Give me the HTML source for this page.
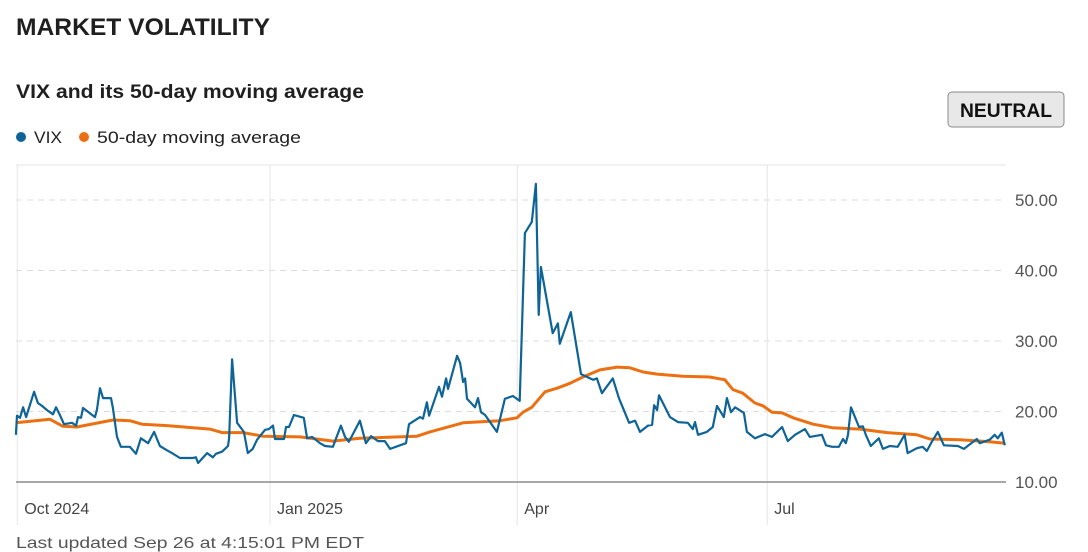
<!DOCTYPE html>
<html><head><meta charset="utf-8"><style>
html,body{margin:0;padding:0;background:#fff;}
svg{display:block;font-family:"Liberation Sans",Arial,sans-serif;}
</style></head><body>
<svg id="chart" width="1088" height="552" viewBox="0 0 1088 552" xmlns="http://www.w3.org/2000/svg">
<text x="16" y="35" font-size="24" font-weight="bold" fill="#1f1f1f" textLength="254" lengthAdjust="spacingAndGlyphs">MARKET VOLATILITY</text>
<text x="16" y="98" font-size="19" font-weight="bold" fill="#1f1f1f" textLength="348" lengthAdjust="spacingAndGlyphs">VIX and its 50-day moving average</text>
<g>
<g><circle cx="21" cy="137" r="5" fill="#0e6496"/><text x="34" y="143" font-size="17" fill="#222" textLength="28" lengthAdjust="spacingAndGlyphs">VIX</text></g>
<g><circle cx="84" cy="137" r="5" fill="#ec7011"/><text x="97" y="143" font-size="17" fill="#222" textLength="204" lengthAdjust="spacingAndGlyphs">50-day moving average</text></g>
</g>
<g>
<rect x="948" y="92" width="116" height="35" rx="4" fill="#e8e8e8" stroke="#8a8a8a" stroke-width="1"/>
<text x="1006" y="117" text-anchor="middle" font-size="19" font-weight="bold" fill="#111" textLength="92" lengthAdjust="spacingAndGlyphs">NEUTRAL</text>
</g>
<line x1="16" y1="165" x2="1006" y2="165" stroke="#e6e6e6" stroke-width="1"/>
<g id="grid"></g>
<g id="lines"></g>
<g id="axes"></g>
<text x="16" y="548" font-size="16" fill="#555" textLength="348" lengthAdjust="spacingAndGlyphs">Last updated Sep 26 at 4:15:01 PM EDT</text>
</svg>
<script>
// Day offsets from 2024-10-01
const vixDays = [-0.5,-0.1,1.0,2.1,3.2,6.1,7.5,9.0,10.8,13.0,14.1,15.5,17.0,19.9,21.4,22.1,23.2,23.9,28.3,29.0,30.1,31.2,34.1,34.8,36.3,37.7,41.0,43.2,45.0,47.6,49.8,51.9,54.5,56.3,59.2,63.9,65.0,65.8,69.1,71.2,72.3,74.5,76.7,77.1,78.2,80.0,82.5,83.9,85.7,87.3,90.2,91.6,93.1,93.8,97.1,97.8,98.9,100.7,104.3,105.5,107.3,110.2,112.0,114.9,117.8,119.3,120.7,124.7,126.9,128.8,131.3,133.8,135.7,139.3,141.5,142.6,146.6,147.7,149.1,149.9,153.5,154.6,156.1,156.8,160.1,161.2,162.3,163.0,163.7,166.6,167.7,168.8,170.3,174.6,177.5,180.4,182.9,184.8,187.3,188.8,189.8,190.6,194.9,196.8,197.5,201.5,205.2,209.6,211.0,212.8,216.8,219.0,222.7,224.9,226.7,229.6,231.1,231.8,232.9,233.6,237.6,240.5,244.1,245.9,246.7,247.8,251.0,253.2,254.7,257.2,258.3,259.8,261.3,264.5,265.6,268.5,272.2,274.7,278.4,280.5,283.1,286.7,288.5,292.9,294.4,296.6,299.1,300.6,301.6,302.4,303.5,306.4,307.8,308.9,310.7,313.6,315.1,317.6,320.5,323.0,324.1,327.5,329.6,331.1,332.9,335.1,337.3,342.4,344.6,349.3,350.4,354.0,355.8,356.9,358.4,359.5];
const vixValues = [16.7,19.4,19.1,20.6,19.2,22.8,21.2,20.8,20.2,19.6,20.6,19.5,18.2,18.4,18.0,19.2,19.1,20.5,19.2,20.3,23.3,21.9,21.9,20.5,16.4,15.0,15.0,14.0,16.2,15.5,17.1,15.1,14.5,14.1,13.4,13.4,13.5,12.7,14.1,13.5,14.0,14.3,15.1,16.2,27.4,18.4,17.1,14.1,14.7,16.0,17.4,17.5,18.0,16.1,16.1,17.8,17.8,19.5,19.1,16.2,16.4,15.5,15.1,15.0,18.0,16.4,15.7,18.7,15.5,16.5,15.8,15.8,14.7,15.2,15.5,18.2,19.2,19.0,21.3,19.4,23.5,22.1,24.7,23.2,27.9,26.9,24.2,24.7,21.8,20.6,21.9,19.9,19.5,17.1,21.8,22.2,21.5,45.3,46.9,52.3,33.7,40.5,31.1,32.5,29.6,34.1,25.3,24.5,24.7,22.6,24.7,21.9,18.4,18.7,17.1,18.0,18.1,20.9,20.2,22.3,19.2,18.5,18.4,17.5,18.5,16.7,17.1,17.8,20.8,19.2,21.9,19.9,20.6,19.8,17.1,16.2,16.8,16.4,17.8,15.8,16.7,17.5,16.4,16.7,15.2,15.0,15.0,16.1,15.5,16.7,20.6,17.8,17.9,16.7,15.1,16.2,14.7,15.1,15.0,16.7,14.1,14.8,15.0,14.4,15.7,17.1,15.2,15.1,14.7,16.1,15.5,16.0,16.7,16.2,17.0,15.2];
const maDays = [-0.5,11.9,16.6,21.7,34.8,41.0,45.4,54.5,70.1,74.5,82.2,89.4,102.9,114.9,124.7,145.5,150.2,162.3,175.7,181.9,184.1,187.3,192.1,196.5,201.2,205.9,212.1,218.3,223.0,227.8,232.9,242.3,252.1,257.6,260.5,264.1,268.5,271.5,274.7,278.4,282.4,289.7,296.6,306.8,316.6,327.5,332.2,343.1,354.0,359.5];
const maValues = [18.4,18.9,17.9,17.8,18.8,18.7,18.2,18.0,17.5,17.0,17.0,16.5,16.4,15.8,16.2,16.5,17.1,18.4,18.7,19.1,19.9,20.6,22.8,23.3,24.0,24.9,25.9,26.3,26.2,25.6,25.3,25.0,24.9,24.5,23.1,22.6,21.2,20.8,19.9,19.8,19.1,18.2,17.7,17.5,17.0,16.7,16.1,16.0,15.7,15.5];
const yTicks = [10,20,30,40,50];
const yTickLabels = ["10.00","20.00","30.00","40.00","50.00"];
const xTickDays = [0,92,182,273];
const xTickLabels = ["Oct 2024","Jan 2025","Apr","Jul"];

const NS = "http://www.w3.org/2000/svg";
const X0 = 17.3, PXDAY = 2.747, Y10 = 482, PXUNIT = 7.05;
function xScale(d){ return X0 + d*PXDAY; }
function yScale(v){ return Y10 - (v-10)*PXUNIT; }
function mk(tag, attrs, parent){ const e=document.createElementNS(NS,tag); for(const k in attrs) e.setAttribute(k,attrs[k]); parent.appendChild(e); return e; }
const grid=document.getElementById('grid'), lines=document.getElementById('lines'), axes=document.getElementById('axes');

yTicks.forEach((t,i)=>{
  const y=yScale(t);
  if(t!==10){
    const g=mk('line',{x1:16,x2:1006,y1:y,y2:y,stroke:'#dcdcdc','stroke-width':1,'stroke-dasharray':'6,5'},grid);
    
    
  }
  const tx=mk('text',{x:1015,y:y+6,'font-size':17,fill:'#555'},axes);
  tx.textContent=yTickLabels[i];
  
  
});
xTickDays.forEach((d,i)=>{
  const x=xScale(d);
  const g=mk('line',{x1:x,x2:x,y1:165,y2:525,stroke:'#e6e6e6','stroke-width':1},grid);
  
  
  const tx=mk('text',{x:x+7,y:514,'font-size':16,fill:'#444'},axes);
  tx.textContent=xTickLabels[i];
  
  
});
const ax=mk('line',{x1:16,x2:1006,y1:Y10,y2:Y10,stroke:'#8c8c8c','stroke-width':1.5},axes);



function path(days,vals){ return days.map((d,i)=>(i?'L':'M')+xScale(d).toFixed(1)+','+yScale(vals[i]).toFixed(1)).join(''); }
const ma=mk('path',{d:path(maDays,maValues),fill:'none',stroke:'#ec7011','stroke-width':3,'stroke-linejoin':'round'},lines);


const vx=mk('path',{d:path(vixDays,vixValues),fill:'none',stroke:'#0e6496','stroke-width':2.2,'stroke-linejoin':'round'},lines);


</script>
</body></html>
